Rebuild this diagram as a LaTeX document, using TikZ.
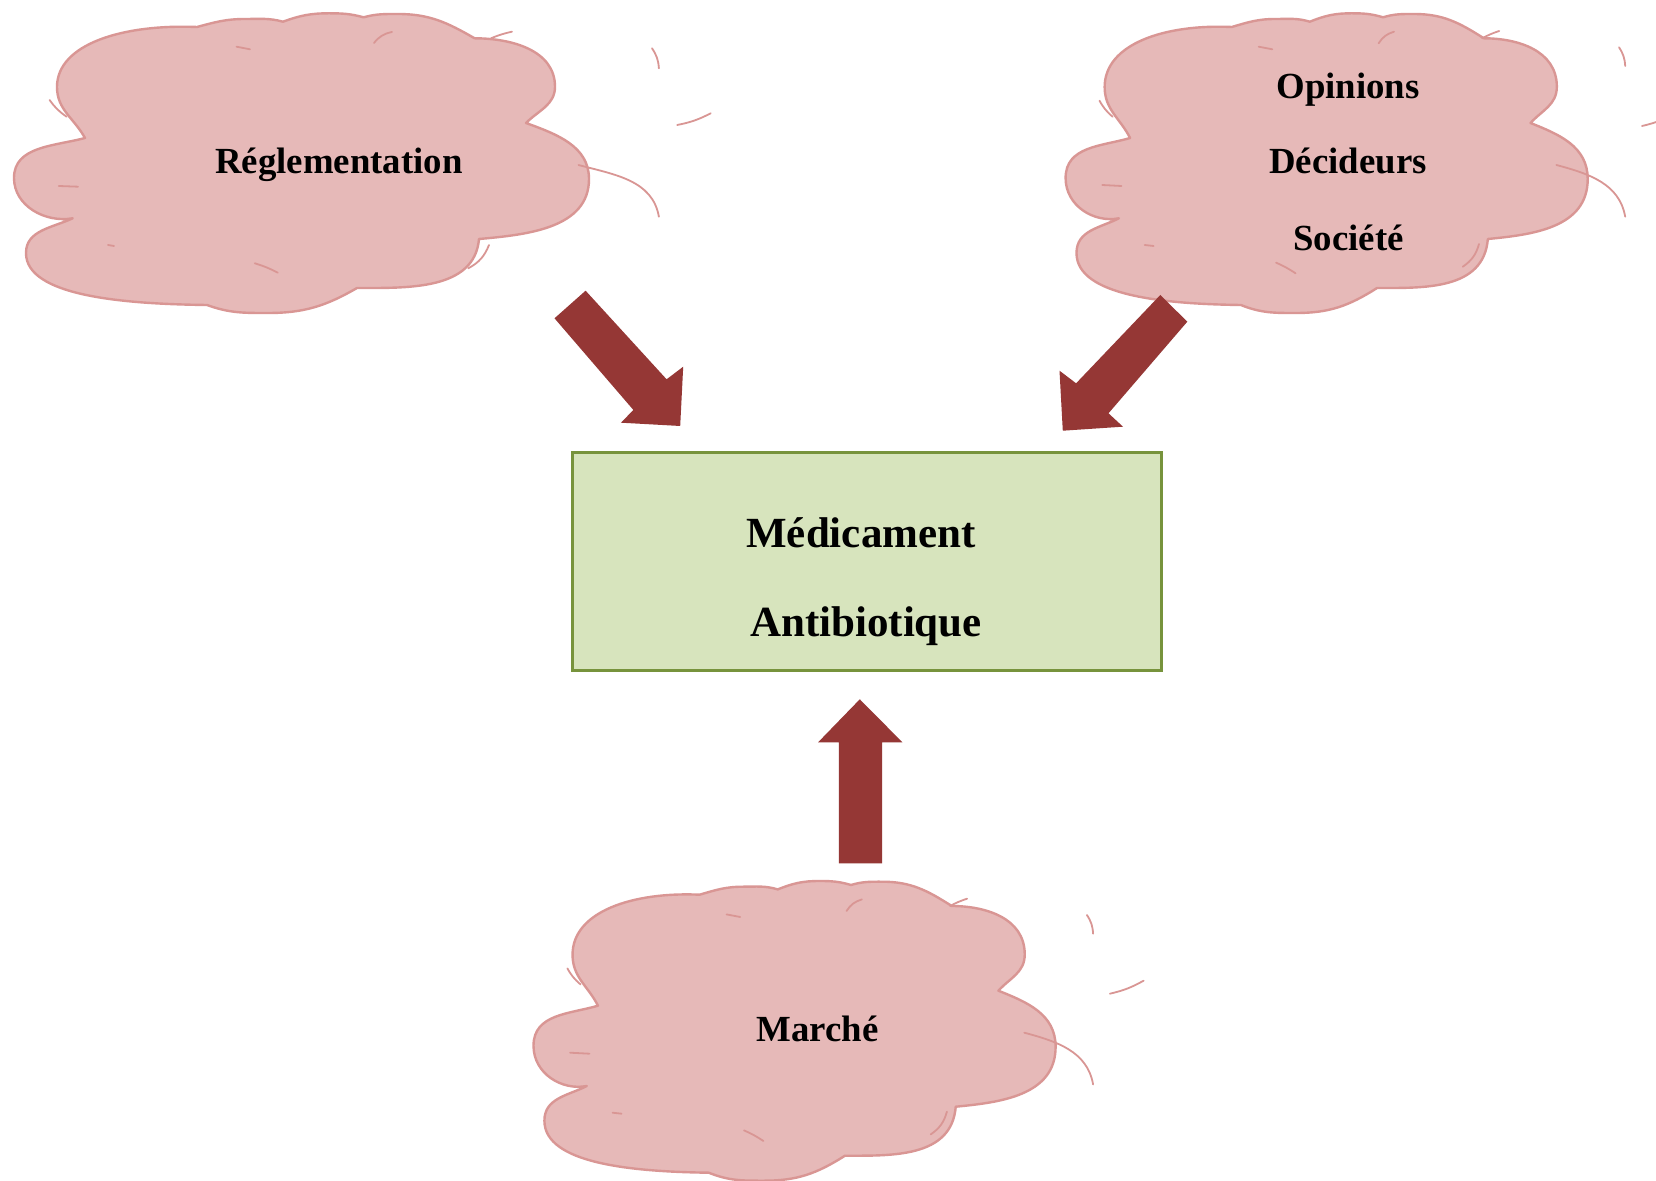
\documentclass[tikz,border=0pt]{standalone}
\usepackage{fontspec}
\setmainfont{Liberation Serif}
\definecolor{cloudfill}{HTML}{E6B9B8}
\definecolor{cloudline}{HTML}{D99694}
\definecolor{arrowred}{HTML}{953735}
\definecolor{boxfill}{HTML}{D7E4BD}
\definecolor{boxline}{HTML}{77933C}
\newcommand\cloudoutline{%
(72,176) to[out=119,in=270] (44,227)
.. controls (44,270) and (110,290) .. (184,287)
to[out=15,in=180] (232,295) to[out=0,in=165] (270,292.3)
to[out=20,in=180] (316,300.7) to[out=0,in=165] (350.6,296.7)
to[out=15,in=180] (385,300) to[out=0,in=150] (461.6,275.7)
to[out=0,in=90] (542,227.3) to[out=270,in=45] (513,191)
to[out=-20,in=90] (576,135) to[out=270,in=5] (466,75)
to[out=265,in=0] (344,26)
to[out=210,in=0] (255,1) to[out=180,in=340] (194,9)
.. controls (110,10) and (13,18) .. (13,61)
to[out=90,in=205] (59.7,95.7)
to[out=190,in=270] (1,136) to[out=90,in=195] (72,176) -- cycle}
\tikzset{
 cloudbody/.style={fill=cloudfill, draw=cloudline, line width=1.2pt, line join=round},
 cloudarc/.style={draw=cloudline, line width=0.9pt, line cap=round},
 cloudtext/.style={font=\fontsize{18.4}{22}\selectfont\bfseries, inner sep=0pt, anchor=base},
 boxtext/.style={font=\fontsize{21.5}{26}\selectfont\bfseries, inner sep=0pt, anchor=base},
 blockarrow/.style={fill=arrowred, draw=none},
 medbox/.style={fill=boxfill, draw=boxline, line width=1.5pt, minimum width=294.5pt, minimum height=109pt, inner sep=0pt}
}
\begin{document}
\begin{tikzpicture}[x=0.5pt,y=0.5pt]
\useasboundingbox (0,0) rectangle (1656,1180);
\fill[white] (0,0) rectangle (1656,1180);
% cloud 1
\begin{scope}[shift={(13,866)}]
 \draw[cloudbody] \cloudoutline;
 \draw[cloudarc] (361,271) to[bend left=20] (379,282);
 \draw[cloudarc] (223.5,267.3) -- (237,264.7);
 \draw[cloudarc] (478,275.7) to[bend left=5] (499,282.3);
 \draw[cloudarc] (36.6,214) to[bend right=10] (53.6,197.3);
 \draw[cloudarc] (45.8,128) -- (65,127.3);
 \draw[cloudarc] (565.5,149) to[out=-15,in=100] (645.9,97.3);
 \draw[cloudarc] (639,265.7) to[bend left=15] (645.9,245.7);
 \draw[cloudarc] (664.2,189) to[bend right=8] (697.7,200.7);
 \draw[cloudarc] (455.3,45.7) to[bend right=20] (476,69);
 \draw[cloudarc] (241.8,50.7) to[bend left=5] (264.8,41.3);
 \draw[cloudarc] (95,69) -- (101,68);
\end{scope}
% cloud 2
\begin{scope}[shift={(1064.7,866)}]
 \begin{scope}[xscale=0.908]
  \draw[cloudbody] \cloudoutline;
 \end{scope}
 \draw[cloudarc] (313.9,270.7) to[bend left=20] (329.3,282.3);
 \draw[cloudarc] (194,267.3) -- (207.6,264.7);
 \draw[cloudarc] (417.5,275.7) to[bend left=5] (434.5,283);
 \draw[cloudarc] (34.8,213.3) to[bend right=10] (47.9,197.3);
 \draw[cloudarc] (37.5,129) -- (56.8,128);
 \draw[cloudarc] (491.7,149) to[out=-15,in=100] (560.5,97.3);
 \draw[cloudarc] (554.3,266.7) to[bend left=15] (560.5,248);
 \draw[cloudarc] (577.3,188) to[bend right=8] (611,201);
 \draw[cloudarc] (398.1,47.3) to[bend right=20] (414.3,70);
 \draw[cloudarc] (211.4,51.3) to[bend left=5] (230.8,40.7);
 \draw[cloudarc] (80,69) -- (88.9,68);
\end{scope}
% cloud 3
\begin{scope}[shift={(532.6,-1.7)}]
 \begin{scope}[xscale=0.908]
  \draw[cloudbody] \cloudoutline;
 \end{scope}
 \draw[cloudarc] (313.9,270.7) to[bend left=20] (329.3,282.3);
 \draw[cloudarc] (194,267.3) -- (207.6,264.7);
 \draw[cloudarc] (417.5,275.7) to[bend left=5] (434.5,283);
 \draw[cloudarc] (34.8,213.3) to[bend right=10] (47.9,197.3);
 \draw[cloudarc] (37.5,129) -- (56.8,128);
 \draw[cloudarc] (491.7,149) to[out=-15,in=100] (560.5,97.3);
 \draw[cloudarc] (554.3,266.7) to[bend left=15] (560.5,248);
 \draw[cloudarc] (577.3,188) to[bend right=8] (611,201);
 \draw[cloudarc] (398.1,47.3) to[bend right=20] (414.3,70);
 \draw[cloudarc] (211.4,51.3) to[bend left=5] (230.8,40.7);
 \draw[cloudarc] (80,69) -- (88.9,68);
\end{scope}
% texts
\node[cloudtext] (regl) at (339,1006) {Réglementation};
\node[cloudtext] (opin) at (1348,1081.7) {Opinions};
\node[cloudtext] (deci) at (1348,1006) {Décideurs};
\node[cloudtext] (soci) at (1348.6,929.3) {Société};
\node[cloudtext] (marche) at (817.5,138.3) {Marché};
% box
\node[medbox] (med) at (866.5,618) {};
\node[boxtext] (medic) at (861,632.3) {Médicament};
\node[boxtext] (antib) at (866,543.3) {Antibiotique};
% arrows
\fill[blockarrow] (554.5,861.7) -- (585.6,889.3) -- (666.6,800.7) -- (683.2,813.3) -- (680.2,754) -- (620.9,757.3) -- (633.4,770) -- cycle;
\fill[blockarrow] (1160.3,885) -- (1187.3,858.3) -- (1108.5,766.7) -- (1123,753.3) -- (1062.8,749.3) -- (1059.5,809.3) -- (1076.1,796.7) -- cycle;
\fill[blockarrow] (859.8,480.7) -- (902.4,437.7) -- (882.1,437.7) -- (882.1,316.7) -- (838.8,316.7) -- (838.8,437.7) -- (818.1,437.7) -- cycle;
\end{tikzpicture}
\end{document}
